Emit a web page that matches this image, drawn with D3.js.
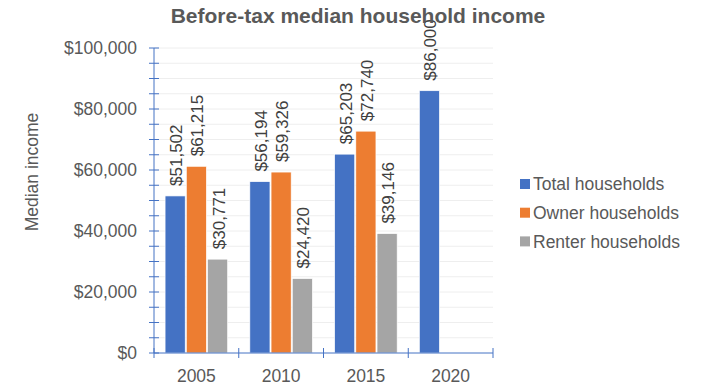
<!DOCTYPE html>
<html lang="en">
<head>
  <meta charset="UTF-8">
  <title>Before-tax median household income</title>
  <script src="https://d3js.org/d3.v7.min.js"></script>
  <style>
    body { margin: 0; background: #fff; font-family: "Liberation Sans", Arial, sans-serif; }
    svg text { fill: #595959; }
  </style>
</head>
<body>
  <div id="chart"></div>
  <script>
    // Chart data
    const years = ["2005", "2010", "2015", "2020"];
    const seriesNames = ["Total households", "Owner households", "Renter households"];
    const totalValues = [51502, 56194, 65203, 86000];
    const ownerValues = [61215, 59326, 72740, null];
    const renterValues = [30771, 24420, 39146, null];
    const yTicks = [0, 20000, 40000, 60000, 80000, 100000];
    const colors = ["#4472C4", "#ED7D31", "#A5A5A5"];

    const W = 703, H = 387;
    const margin = { top: 48, right: 210, bottom: 34, left: 154 };
    const width = W - margin.left - margin.right;
    const height = H - margin.top - margin.bottom;

    const svg = d3.select("#chart").append("svg")
      .attr("width", W).attr("height", H);

    const g = svg.append("g")
      .attr("transform", `translate(${margin.left},${margin.top})`);

    const x = d3.scaleBand().domain(years).range([0, width]).paddingInner(0).paddingOuter(0);
    const x1 = d3.scaleBand().domain(seriesNames).range([10, x.bandwidth() - 10]).padding(0.05);
    const y = d3.scaleLinear().domain([0, 100000]).range([height, 0]);

    // gridlines every 5000
    const minor = d3.range(0, 100001, 5000);
    g.selectAll(".grid").data(minor.filter(d => d > 0)).enter().append("line")
      .attr("x1", 0).attr("x2", width)
      .attr("y1", d => y(d)).attr("y2", d => y(d))
      .attr("stroke", "#eeeeee").attr("stroke-width", 1);

    // bars
    const rows = years.map((yr, i) => ({
      year: yr,
      vals: [totalValues[i], ownerValues[i], renterValues[i]]
    }));

    const grp = g.selectAll(".group").data(rows).enter().append("g")
      .attr("transform", d => `translate(${x(d.year)},0)`);

    const items = grp.selectAll("g.bar")
      .data(d => d.vals.map((v, k) => ({ key: seriesNames[k], k, v })).filter(e => e.v != null))
      .enter().append("g").attr("class", "bar");

    items.append("rect")
      .attr("x", d => x1(d.key))
      .attr("y", d => y(d.v))
      .attr("width", x1.bandwidth())
      .attr("height", d => height - y(d.v))
      .attr("fill", d => colors[d.k])
      .attr("stroke", "#fff").attr("stroke-width", 0.7);

    items.append("text")
      .attr("transform", d => `translate(${x1(d.key) + x1.bandwidth() / 2 + 7},${y(d.v) - 10}) rotate(-90)`)
      .attr("text-anchor", "start")
      .style("font-size", "17px")
      .style("fill", "#404040")
      .text(d => "$" + d3.format(",")(d.v));

    // y axis
    const yAxisG = g.append("g");
    yAxisG.append("line").attr("x1", 0).attr("x2", 0).attr("y1", 0).attr("y2", height)
      .attr("stroke", "#4472C4");
    yAxisG.selectAll(".mt").data(minor).enter().append("line")
      .attr("x1", -5).attr("x2", 5)
      .attr("y1", d => y(d)).attr("y2", d => y(d))
      .attr("stroke", "#4472C4");
    yAxisG.selectAll(".yl").data(yTicks).enter().append("text")
      .attr("x", -17).attr("y", d => y(d)).attr("dy", "0.35em")
      .attr("text-anchor", "end").style("font-size", "17.5px")
      .text(d => "$" + d3.format(",")(d));

    // x axis
    const xAxisG = g.append("g").attr("transform", `translate(0,${height})`);
    xAxisG.append("line").attr("x1", 0).attr("x2", width).attr("stroke", "#4472C4");
    xAxisG.selectAll(".xt").data(years.concat(["end"])).enter().append("line")
      .attr("x1", (d, i) => i * x.bandwidth()).attr("x2", (d, i) => i * x.bandwidth())
      .attr("y1", -5).attr("y2", 5).attr("stroke", "#4472C4");
    xAxisG.selectAll(".xl").data(years).enter().append("text")
      .attr("x", d => x(d) + x.bandwidth() / 2).attr("y", 29)
      .attr("text-anchor", "middle").style("font-size", "17.5px")
      .text(d => d);

    // axis title
    svg.append("text")
      .attr("transform", "translate(38,172) rotate(-90)")
      .attr("text-anchor", "middle").style("font-size", "17.5px")
      .text("Median income");

    // chart title
    svg.append("text")
      .attr("x", 358).attr("y", 23)
      .attr("text-anchor", "middle")
      .style("font-size", "21px").style("font-weight", "bold")
      .text("Before-tax median household income");

    // legend
    const legend = svg.append("g").attr("transform", "translate(520,184)");
    seriesNames.forEach((name, i) => {
      const row = legend.append("g").attr("transform", `translate(0,${i * 28.7})`);
      row.append("rect").attr("x", 0).attr("y", -5).attr("width", 10).attr("height", 10)
        .attr("fill", colors[i]);
      row.append("text").attr("x", 13).attr("y", 0).attr("dy", "0.35em")
        .style("font-size", "17.5px").text(name);
    });
  </script>
</body>
</html>
